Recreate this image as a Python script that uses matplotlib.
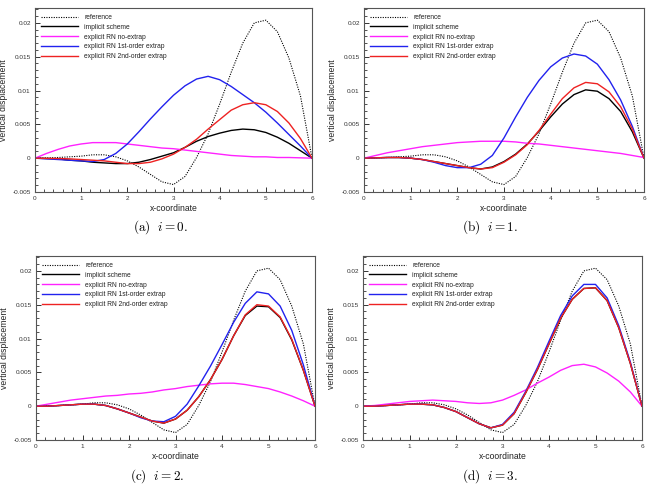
import numpy as np
import matplotlib.pyplot as plt
from matplotlib.ticker import MultipleLocator, FuncFormatter

# x positions along the beam (shared by every curve)
x = np.arange(0, 6.01, 0.25)

# reference solution (same in every panel)
reference = [0, 0.00005, 0.0001, 0.0002, 0.0003, 0.0005, 0.0005, 0.0002, -0.0004,
             -0.0013, -0.0024, -0.0035, -0.0039, -0.0027, 0.0001, 0.0036, 0.0080,
             0.0127, 0.0170, 0.0200, 0.0204, 0.0187, 0.0148, 0.0092, 0]

# (a) i = 0
implicit_a = [0, -0.00005, -0.0001, -0.0003, -0.0004, -0.0006, -0.0007, -0.0008, -0.0008,
              -0.0006, -0.0002, 0.0003, 0.0008, 0.0016, 0.0025, 0.0032, 0.0037,
              0.0041, 0.0043, 0.0042, 0.0038, 0.0031, 0.0022, 0.0011, 0]
noextrap_a = [0, 0.0007, 0.0013, 0.0018, 0.0021, 0.0023, 0.0023, 0.0023, 0.0021,
              0.0019, 0.0017, 0.0015, 0.0014, 0.0012, 0.0010, 0.0008, 0.0006,
              0.0004, 0.0003, 0.0002, 0.0002, 0.0001, 0.0001, 0.00005, 0]
first_a = [0, -0.0001, -0.0002, -0.0003, -0.0004, -0.0005, -0.0002, 0.0007, 0.0021,
           0.0039, 0.0058, 0.0076, 0.0093, 0.0107, 0.0117, 0.0121, 0.0116,
           0.0106, 0.0094, 0.0082, 0.0068, 0.0052, 0.0035, 0.0018, 0]
second_a = [0, -0.00003, -0.00005, -0.0001, -0.0002, -0.0003, -0.0004, -0.0006, -0.0008,
            -0.0008, -0.0006, -0.0001, 0.0006, 0.0016, 0.0028, 0.0043, 0.0057,
            0.0071, 0.0079, 0.0082, 0.0079, 0.0069, 0.0052, 0.0029, 0]

# (b) i = 1
implicit_b = [0, 0.00005, 0.0001, 0.0001, 0.0, -0.0002, -0.0005, -0.0008, -0.0011,
              -0.0014, -0.0016, -0.0013, -0.0005, 0.0006, 0.0021, 0.0040, 0.0061,
              0.0080, 0.0094, 0.0101, 0.0099, 0.0088, 0.0069, 0.0039, 0]
noextrap_b = [0, 0.0004, 0.0008, 0.0011, 0.0014, 0.0017, 0.0019, 0.0021, 0.0023,
              0.0024, 0.0025, 0.0025, 0.0025, 0.0024, 0.0022, 0.0021, 0.0019,
              0.0017, 0.0015, 0.0013, 0.0011, 0.0009, 0.0007, 0.0004, 0.0001]
first_b = [0, 0.00005, 0.0001, 0.0001, 0.0, -0.0002, -0.0006, -0.0011, -0.0014,
           -0.0014, -0.0009, 0.0004, 0.0030, 0.0061, 0.0090, 0.0115, 0.0135,
           0.0148, 0.0154, 0.0151, 0.0139, 0.0116, 0.0086, 0.0047, 0]
second_b = [0, 0.00005, 0.0001, 0.0001, 0.0, -0.0002, -0.0005, -0.0008, -0.0011,
            -0.0014, -0.0016, -0.0014, -0.0006, 0.0005, 0.0020, 0.0041, 0.0065,
            0.0088, 0.0104, 0.0112, 0.0110, 0.0098, 0.0076, 0.0043, 0]

# (c) i = 2
implicit_c = [0, 0.0, 0.0001, 0.0002, 0.0003, 0.0003, 0.0001, -0.0004, -0.0010,
              -0.0016, -0.0022, -0.0025, -0.0019, -0.0006, 0.0014, 0.0039, 0.0069,
              0.0104, 0.0134, 0.0148, 0.0147, 0.0131, 0.0098, 0.0053, 0]
noextrap_c = [0, 0.0003, 0.0006, 0.0009, 0.0011, 0.0013, 0.0015, 0.0016, 0.0018,
              0.0019, 0.0021, 0.0024, 0.0026, 0.0029, 0.0031, 0.0033, 0.0034,
              0.0034, 0.0032, 0.0029, 0.0026, 0.0021, 0.0015, 0.0008, 0]
first_c = [0, 0.0, 0.0001, 0.0002, 0.0003, 0.0003, 0.0001, -0.0004, -0.0010,
           -0.0017, -0.0022, -0.0023, -0.0015, 0.0003, 0.0030, 0.0059, 0.0091,
           0.0124, 0.0152, 0.0169, 0.0166, 0.0148, 0.0112, 0.0061, 0]
second_c = [0, 0.0, 0.0001, 0.0002, 0.0003, 0.0003, 0.0001, -0.0004, -0.0010,
            -0.0016, -0.0022, -0.0025, -0.0019, -0.0006, 0.0014, 0.0039, 0.0069,
            0.0104, 0.0135, 0.0150, 0.0148, 0.0132, 0.0099, 0.0053, 0]

# (d) i = 3
implicit_d = [0, 0.0, 0.0001, 0.0002, 0.0003, 0.0003, 0.0002, -0.0002, -0.0008,
              -0.0017, -0.0026, -0.0032, -0.0028, -0.0011, 0.0020, 0.0054, 0.0092,
              0.0130, 0.0158, 0.0174, 0.0175, 0.0156, 0.0116, 0.0063, 0]
noextrap_d = [0, 0.0001, 0.0003, 0.0005, 0.0007, 0.0008, 0.0009, 0.0008, 0.0007,
              0.0005, 0.0004, 0.0005, 0.0009, 0.0016, 0.0024, 0.0034, 0.0043,
              0.0053, 0.0060, 0.0062, 0.0058, 0.0049, 0.0037, 0.0021, 0]
first_d = [0, 0.0, 0.0001, 0.0002, 0.0003, 0.0003, 0.0002, -0.0002, -0.0008,
           -0.0017, -0.0026, -0.0032, -0.0027, -0.0009, 0.0022, 0.0057, 0.0096,
           0.0134, 0.0163, 0.0180, 0.0180, 0.0160, 0.0119, 0.0065, 0]
second_d = implicit_d

panels = [
    ("a", 0, implicit_a, noextrap_a, first_a, second_a),
    ("b", 1, implicit_b, noextrap_b, first_b, second_b),
    ("c", 2, implicit_c, noextrap_c, first_c, second_c),
    ("d", 3, implicit_d, noextrap_d, first_d, second_d),
]

# axes boxes in pixels: left, top, right, bottom
boxes = [(35, 8, 312, 192), (364, 8, 644, 192), (36, 256, 315, 440), (363, 256, 642, 440)]
captions_xy = [(161, 227), (490, 227), (157, 476), (490, 476)]

W, H = 647, 486
fig = plt.figure(figsize=(W / 100, H / 100), dpi=100)
plt.rcParams['font.family'] = ['Liberation Sans', 'DejaVu Sans']

for (tag, i, imp, noext, first, second), (l, t, r, b), (cx, cy) in zip(panels, boxes, captions_xy):
    ax = fig.add_axes([l / W, 1 - b / H, (r - l) / W, (b - t) / H])
    ax.plot(x, reference, color='black', ls=(0, (1, 1.2)), lw=0.8, label='reference')
    ax.plot(x, imp, color='black', lw=1.0, label='implicit scheme')
    ax.plot(x, noext, color='#ff22ff', lw=1.0, label='explicit RN no-extrap')
    ax.plot(x, first, color='#2222ee', lw=1.0, label='explicit RN 1st-order extrap')
    ax.plot(x, second, color='#ee2222', lw=1.0, label='explicit RN 2nd-order extrap')

    ax.set_xlim(0, 6)
    ax.set_ylim(-0.005, 0.0222)
    ax.xaxis.set_major_locator(MultipleLocator(1))
    ax.xaxis.set_minor_locator(MultipleLocator(0.2))
    ax.yaxis.set_major_locator(MultipleLocator(0.005))
    ax.yaxis.set_minor_locator(MultipleLocator(0.001))
    ax.yaxis.set_major_formatter(FuncFormatter(lambda v, p: '%g' % round(v, 6)))
    ax.tick_params(which='both', direction='in', labelsize=4.6, colors='#333333',
                   top=False, right=False)
    ax.tick_params(which='major', length=3.5, width=0.7, pad=3)
    ax.tick_params(which='minor', length=2, width=0.6)
    for s in ax.spines.values():
        s.set_color('#555555')
        s.set_linewidth(0.8)
    ax.set_xlabel('x-coordinate', fontsize=6.2, labelpad=2, color='#222222')
    ax.set_ylabel('vertical displacement', fontsize=6.2, labelpad=3, color='#222222')

    leg = ax.legend(loc='upper left', frameon=False, fontsize=4.8, handlelength=5.6,
                    handletextpad=0.9, labelspacing=0.42, borderaxespad=0.5, borderpad=0.4)
    for txt in leg.get_texts():
        txt.set_color('#222222')

    fig.text(cx / W, 1 - cy / H, r'$\mathrm{(%s)}\ \ i=%d.$' % (tag, i),
             ha='center', va='center', fontsize=9.5, math_fontfamily='cm')

fig.savefig('out.png', dpi=100)
